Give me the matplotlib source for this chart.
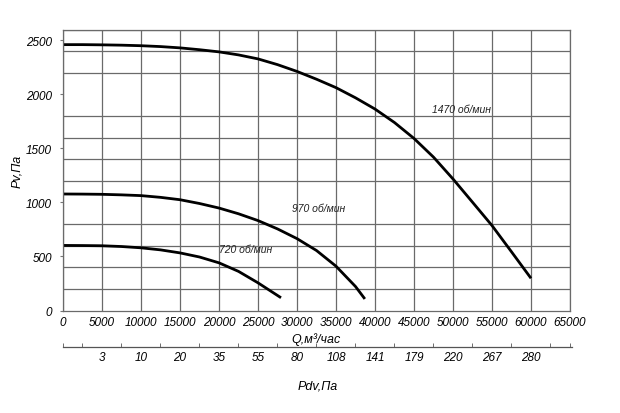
import matplotlib
matplotlib.use("Agg")
import matplotlib.pyplot as plt
from matplotlib import font_manager

# fan curves: Q (m3/h) vs Pv (Pa)
q_1470 = [0, 2500, 5000, 7500, 10000, 12500, 15000, 17500, 20000, 22500, 25000, 27500, 30000,
          32500, 35000, 37500, 40000, 42500, 45000, 47500, 50000, 52500, 55000, 57500, 60000]
p_1470 = [2460, 2460, 2458, 2455, 2450, 2442, 2430, 2413, 2393, 2365, 2328, 2275, 2212,
          2140, 2062, 1968, 1864, 1739, 1592, 1419, 1217, 1002, 786, 543, 298]

q_970 = [0, 2500, 5000, 7500, 10000, 12500, 15000, 17500, 20000, 22500, 25000, 27500, 30000,
         32500, 35000, 37500, 38700]
p_970 = [1078, 1077, 1075, 1070, 1063, 1047, 1025, 990, 948, 895, 832, 755, 665,
         555, 410, 222, 107]

q_720 = [0, 2500, 5000, 7500, 10000, 12500, 15000, 17500, 20000, 22500, 25000, 27950]
p_720 = [602, 601, 599, 592, 580, 561, 533, 495, 441, 362, 256, 118]

curve_labels = ["1470 об/мин", "970 об/мин", "720 об/мин"]
label_pos = [(51150, 1860), (32800, 949), (23460, 565)]

x_ticks = list(range(0, 65001, 5000))
y_grid = list(range(0, 2601, 200))
y_ticks = [0, 500, 1000, 1500, 2000, 2500]
pdv_labels = ["3", "10", "20", "35", "55", "80", "108", "141", "179", "220", "267", "280"]

names = {f.name for f in font_manager.fontManager.ttflist}
fam = "Liberation Sans Narrow" if "Liberation Sans Narrow" in names else "Liberation Sans"
plt.rcParams["font.family"] = [fam, "DejaVu Sans"]
plt.rcParams["font.style"] = "italic"

fig = plt.figure(figsize=(6.2, 4.14), dpi=100)
ax = fig.add_axes([63 / 620, 1 - 311.5 / 414, 507 / 620, 281 / 414])

ax.set_xlim(0, 65000)
ax.set_ylim(0, 2600)
ax.set_xticks(x_ticks)
ax.set_xticklabels([str(v) for v in x_ticks], fontsize=8.5)
ax.set_yticks(y_ticks)
ax.set_yticklabels([str(v) for v in y_ticks], fontsize=8.5)
ax.set_yticks(y_grid, minor=True)
ax.tick_params(axis="x", length=0, pad=4)
ax.tick_params(axis="y", length=2, pad=6, color="#777777")
ax.tick_params(axis="y", which="minor", length=0)
ax.grid(True, axis="x", color="#6a6a6a", lw=0.9)
ax.grid(True, axis="y", which="minor", color="#6a6a6a", lw=0.9)
for s in ax.spines.values():
    s.set_color("#6a6a6a")
    s.set_linewidth(0.9)

for q, p in [(q_1470, p_1470), (q_970, p_970), (q_720, p_720)]:
    ax.plot(q, p, color="black", lw=2.0, solid_capstyle="butt", solid_joinstyle="round")

for txt, (x, y) in zip(curve_labels, label_pos):
    ax.text(x, y, txt, fontsize=7.5, ha="center", va="center", color="#222222")

ax.set_ylabel("Pv,Па", fontsize=9, labelpad=2)
ax.set_xlabel("Q,м³/час", fontsize=9, labelpad=3)

# second scale under the plot: dynamic pressure
ax2 = fig.add_axes([63 / 620, 1 - 348 / 414, 509 / 620, 0.001])
ax2.set_xlim(0, 65260)
ax2.set_ylim(0, 1)
for k in ["top", "left", "right"]:
    ax2.spines[k].set_visible(False)
ax2.spines["bottom"].set_color("#555555")
ax2.spines["bottom"].set_linewidth(0.9)
ax2.set_yticks([])
ax2.set_xticks(x_ticks[1:-1])
ax2.set_xticklabels(pdv_labels, fontsize=8.5)
ax2.set_xticks(list(range(0, 65001, 2500)), minor=True)
ax2.tick_params(axis="x", which="both", direction="in", length=3, color="#555555")
ax2.tick_params(axis="x", which="major", length=0, pad=3)
ax2.set_xlabel("Pdv,Па", fontsize=9, labelpad=12)

fig.savefig("out.png", dpi=100)
